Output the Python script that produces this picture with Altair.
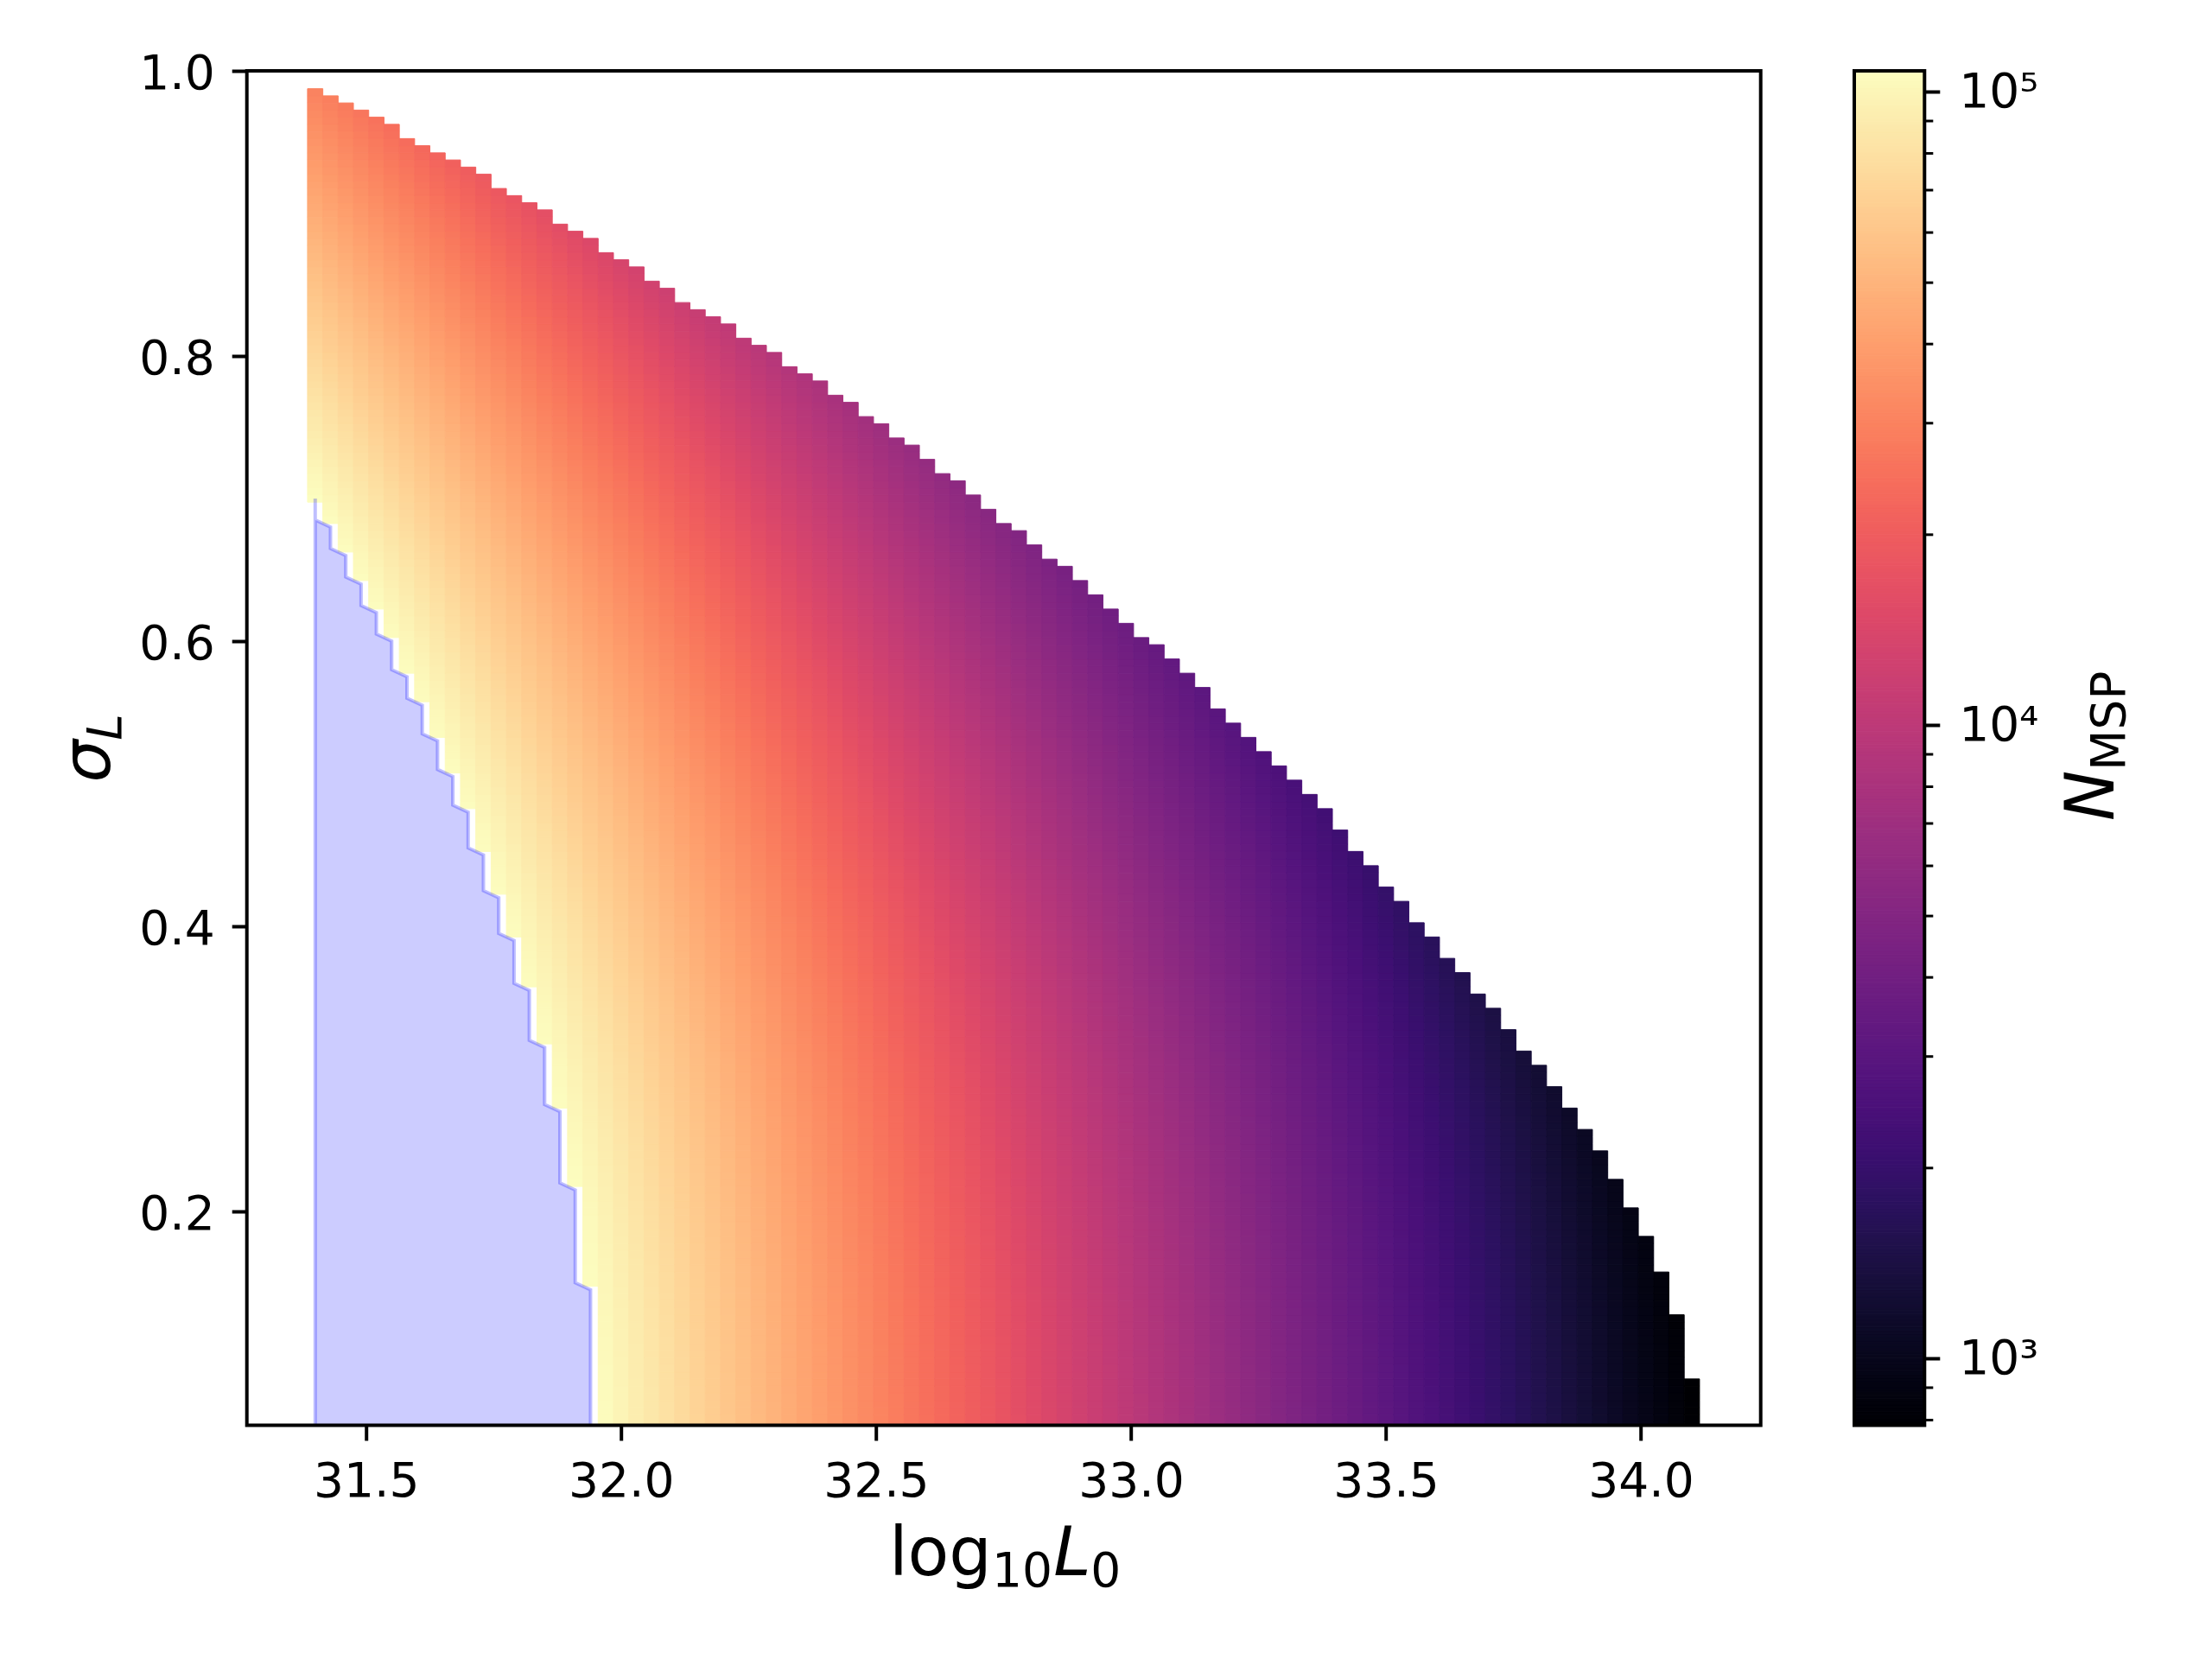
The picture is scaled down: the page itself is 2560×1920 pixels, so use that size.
import math
import pandas as pd
import altair as alt

# ------------------------------------------------------------------
# Values
# ------------------------------------------------------------------
# column centres of the grid in log10 L0 (91 columns, 0.03 apart)
log_L0 = [round(31.40 + 0.03 * i, 2) for i in range(91)]
CELL_W = 0.03
CELL_H = 0.005

# sigma_L of the highest filled row in each column (upper staircase)
sigma_top = [
    0.985, 0.980, 0.975, 0.970, 0.965, 0.960, 0.950, 0.945, 0.940, 0.935,
    0.930, 0.925, 0.915, 0.910, 0.905, 0.900, 0.890, 0.885, 0.880, 0.870,
    0.865, 0.860, 0.850, 0.845, 0.835, 0.830, 0.825, 0.820, 0.810, 0.805,
    0.800, 0.790, 0.785, 0.780, 0.770, 0.765, 0.755, 0.750, 0.740, 0.735,
    0.725, 0.715, 0.710, 0.700, 0.690, 0.680, 0.675, 0.665, 0.655, 0.650,
    0.640, 0.630, 0.620, 0.610, 0.600, 0.595, 0.585, 0.575, 0.565, 0.550,
    0.540, 0.530, 0.520, 0.510, 0.500, 0.490, 0.480, 0.465, 0.450, 0.440,
    0.425, 0.415, 0.400, 0.390, 0.375, 0.365, 0.350, 0.340, 0.325, 0.310,
    0.300, 0.285, 0.270, 0.255, 0.240, 0.220, 0.200, 0.180, 0.155, 0.125,
    0.080,
]

# blue (excluded) region: for the first 19 columns, top and bottom of the
# vertical run of its staircase edge (sigma_L)
blue_top = [0.700, 0.680, 0.660, 0.640, 0.620, 0.600, 0.575, 0.555, 0.530, 0.505,
            0.480, 0.450, 0.420, 0.390, 0.355, 0.315, 0.270, 0.215, 0.145]
blue_bottom = [0.685, 0.665, 0.645, 0.625, 0.605, 0.580, 0.560, 0.535, 0.510, 0.485,
               0.455, 0.425, 0.395, 0.360, 0.320, 0.275, 0.220, 0.150, 0.045]

# axis limits
X_DOMAIN = [31.266, 34.235]
Y_DOMAIN = [0.05, 1.0]
x_ticks = [31.5, 32.0, 32.5, 33.0, 33.5, 34.0]
y_ticks = [0.2, 0.4, 0.6, 0.8, 1.0]

# colour bar limits (N_MSP) and its ticks
N_MIN, N_MAX = 785.0, 108000.0
cbar_major = [1000, 10000, 100000]
cbar_minor = [800, 900, 2000, 3000, 4000, 5000, 6000, 7000, 8000, 9000,
              20000, 30000, 40000, 50000, 60000, 70000, 80000, 90000]

# colour field: iso-colour lines in the picture follow log10 N + log10 L0 + (ln10/2) sigma^2 = const,
# anchored at the darkest cell (log10 L0 = 34.10, sigma = 0.05) which sits at the colour-bar minimum
X_ANCHOR, S_ANCHOR = 34.10, 0.05
K_SIG = math.log(10) / 2.0


def n_msp(x, s):
    return N_MIN * 10 ** (-(x - X_ANCHOR) - K_SIG * (s * s - S_ANCHOR ** 2))


# ------------------------------------------------------------------
# Tables
# ------------------------------------------------------------------
low_edge = [blue_top[0]] + blue_bottom
cells = []
for j, x in enumerate(log_L0):
    lo = low_edge[j] if j < len(low_edge) else Y_DOMAIN[0]
    k0 = int(round(max(lo, Y_DOMAIN[0]) / CELL_H))
    k1 = int(round(sigma_top[j] / CELL_H))
    for k in range(k0, k1 + 1):
        s = k * CELL_H
        cells.append({
            "x0": x - CELL_W / 2, "x1": x + CELL_W / 2,
            "y0": max(s - CELL_H / 2, Y_DOMAIN[0]), "y1": s + CELL_H / 2,
            "N": n_msp(x, s),
        })
cells = pd.DataFrame(cells)

blue_pts = []
for j in range(len(blue_top)):
    blue_pts.append({"sigma": blue_top[j], "xb": log_L0[j], "x0": log_L0[0]})
    blue_pts.append({"sigma": blue_bottom[j], "xb": log_L0[j], "x0": log_L0[0]})
blue = pd.DataFrame(blue_pts)

NB = 400
lg0, lg1 = math.log10(N_MIN), math.log10(N_MAX)
cbar = pd.DataFrame({
    "Nb0": [10 ** (lg0 + (lg1 - lg0) * i / NB) for i in range(NB)],
    "Nb1": [10 ** (lg0 + (lg1 - lg0) * (i + 1) / NB) for i in range(NB)],
    "c0": [0.0] * NB, "c1": [1.0] * NB,
})
cbar["Nm"] = (cbar["Nb0"] * cbar["Nb1"]) ** 0.5
minor = pd.DataFrame({"Nm": cbar_minor})

# ------------------------------------------------------------------
# Layout (pixels)
# ------------------------------------------------------------------
W, H = 1752, 1567.5
FONT = "DejaVu Sans"
TICK_FS = 55
LAB_FS = 78
SUB_FS = 55
CB_X0, CB_X1 = 1860.3, 1941.6

cscale = alt.Scale(type="log", scheme="magma", domain=[N_MIN, N_MAX])
xscale = alt.Scale(domain=X_DOMAIN, nice=False, zero=False)
yscale = alt.Scale(domain=Y_DOMAIN, nice=False, zero=False)

xaxis = alt.Axis(values=x_ticks, format=".1f", title=None, grid=False, domain=False,
                 tickSize=17.5, tickWidth=4, tickColor="black", labelFontSize=TICK_FS,
                 labelPadding=21, labelColor="black", labelFlush=False, labelOverlap=False,
                 labelFont=FONT)
yaxis = alt.Axis(values=y_ticks, format=".1f", title=None, grid=False, domain=False,
                 tickSize=17.5, tickWidth=4, tickColor="black", labelFontSize=TICK_FS,
                 labelPadding=20, labelColor="black", labelFlush=False, labelOverlap=False,
                 labelFont=FONT, labelOffset=3)

heat = alt.Chart(cells).mark_rect(strokeWidth=1).encode(
    x=alt.X("x0:Q", scale=xscale, axis=xaxis),
    x2="x1:Q",
    y=alt.Y("y0:Q", scale=yscale, axis=yaxis),
    y2="y1:Q",
    color=alt.Color("N:Q", scale=cscale, legend=None),
    stroke=alt.Stroke("N:Q", scale=cscale, legend=None),
)

blue_area = alt.Chart(blue).mark_area(
    orient="horizontal", clip=True, fill="#0000ff", fillOpacity=0.2,
    stroke="#0000ff", strokeOpacity=0.25, strokeWidth=4, interpolate="linear"
).encode(
    y=alt.Y("sigma:Q", scale=yscale, axis=yaxis),
    x=alt.X("xb:Q", scale=xscale, axis=xaxis),
    x2="x0:Q",
)

one = pd.DataFrame({"t": [""]})
frame = alt.Chart(one).mark_rect(fillOpacity=0, stroke="black", strokeWidth=4).encode(
    x=alt.value(0), x2=alt.value(W), y=alt.value(0), y2=alt.value(H)
)


def label(txt, x, y, size, italic=False, angle=0):
    kw = dict(font=FONT, fontSize=size, align="left", baseline="alphabetic",
              color="black", angle=angle)
    if italic:
        kw["fontStyle"] = "italic"
    return alt.Chart(pd.DataFrame({"t": [txt]})).mark_text(**kw).encode(
        text="t:N", x=alt.value(x), y=alt.value(y)
    )


# x label: log_10 L_0
XL_BASE = 1741
XL0 = 743.2
xl = [
    label("log", XL0, XL_BASE, LAB_FS),
    label("10", XL0 + 119, XL_BASE + 13, SUB_FS),
    label("L", XL0 + 190.4, XL_BASE, LAB_FS, italic=True),
    label("0", XL0 + 233.4, XL_BASE + 13, SUB_FS),
]
# y label: sigma_L (rotated)
yl = [
    label("σ", -158.7, 823.7, LAB_FS, italic=True, angle=270),
    label("L", -158.7 + 13, 774.7, SUB_FS, italic=True, angle=270),
]
# colour-bar label: N_MSP (rotated)
cl = [
    label("N", 2160.3, 868, LAB_FS, italic=True, angle=270),
    label("MSP", 2160.3 + 13, 810, SUB_FS, angle=270),
]

main = alt.layer(heat, blue_area, frame, *xl, *yl, *cl)

cb_x = alt.Scale(domain=[0, 1], range=[CB_X0, CB_X1])
cb_y = alt.Scale(type="log", domain=[N_MIN, N_MAX], nice=False)
cb_axis = alt.Axis(orient="right", offset=CB_X1 - W, values=cbar_major, title=None,
                   grid=False, domain=False, tickSize=17.5, tickWidth=4, tickColor="black",
                   labelFontSize=TICK_FS, labelPadding=22, labelColor="black",
                   labelFlush=False, labelOverlap=False, labelFont=FONT,
                   labelExpr="datum.value == 1000 ? '10³' : datum.value == 10000 ? '10⁴' : '10⁵'")

grad = alt.Chart(cbar).mark_rect(strokeWidth=1).encode(
    x=alt.X("c0:Q", scale=cb_x, axis=None),
    x2="c1:Q",
    y=alt.Y("Nb0:Q", scale=cb_y, axis=cb_axis),
    y2="Nb1:Q",
    color=alt.Color("Nm:Q", scale=cscale, legend=None),
    stroke=alt.Stroke("Nm:Q", scale=cscale, legend=None),
)
minor_ticks = alt.Chart(minor).mark_rule(color="black", strokeWidth=3).encode(
    y=alt.Y("Nm:Q", scale=cb_y, axis=cb_axis),
    x=alt.value(CB_X1), x2=alt.value(CB_X1 + 10),
)
cb_frame = alt.Chart(one).mark_rect(fillOpacity=0, stroke="black", strokeWidth=4).encode(
    x=alt.value(CB_X0), x2=alt.value(CB_X1), y=alt.value(0), y2=alt.value(H)
)
colourbar = alt.layer(grad, minor_ticks, cb_frame)

PAD_L, PAD_T = 277.7, 74
chart = alt.layer(main, colourbar).resolve_scale(
    x="independent", y="independent"
).properties(
    width=W, height=H,
    autosize=alt.AutoSizeParams(type="none"),
    padding={"left": PAD_L, "top": PAD_T, "right": 2544 - PAD_L - W, "bottom": 1904 - PAD_T - H},
    background="white",
).configure_view(stroke=None).configure(font=FONT)

chart.save("out.html", embed_options={"renderer": "svg", "actions": False})
